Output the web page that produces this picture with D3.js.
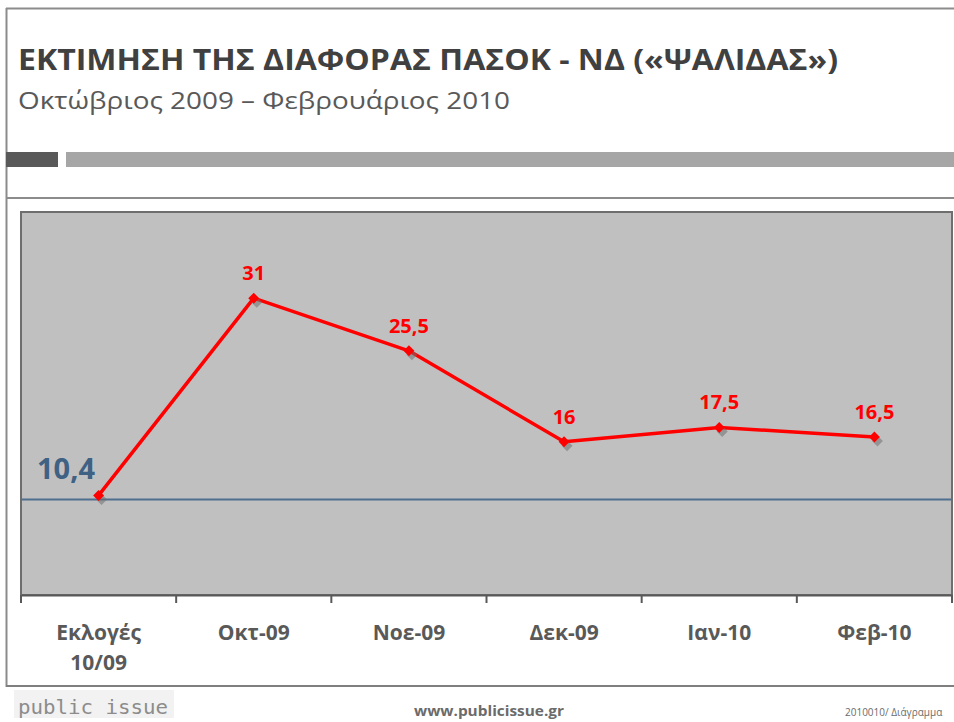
<!DOCTYPE html>
<html>
<head>
<meta charset="utf-8">
<script src="https://cdn.jsdelivr.net/npm/d3@7"></script>
<style>
  body { margin: 0; background: #fff; }
  svg { display: block; }
</style>
</head>
<body>
<div id="chart"></div>
<script>
// data
var categories = ["Εκλογές\n10/09", "Οκτ-09", "Νοε-09", "Δεκ-09", "Ιαν-10", "Φεβ-10"];
var gapValues = [10.4, 31, 25.5, 16, 17.5, 16.5];
var valueLabels = ["", "31", "25,5", "16", "17,5", "16,5"];
var baselineValue = 10.4;
var baselineLabel = "10,4";
var yDomain = [0, 40];

var W = 954, H = 722;
var svg = d3.select("#chart").append("svg").attr("width", W).attr("height", H);
var font = "'Open Sans', 'DejaVu Sans', sans-serif";

// frame
svg.append("line").attr("x1", 6).attr("x2", W).attr("y1", 8.5).attr("y2", 8.5).attr("stroke", "#8c8c8c").attr("stroke-width", 2);
svg.append("line").attr("x1", 6.5).attr("x2", 6.5).attr("y1", 8).attr("y2", 687).attr("stroke", "#8c8c8c").attr("stroke-width", 2);
svg.append("line").attr("x1", 6).attr("x2", W).attr("y1", 198).attr("y2", 198).attr("stroke", "#8c8c8c").attr("stroke-width", 2);
svg.append("line").attr("x1", 6).attr("x2", W).attr("y1", 686).attr("y2", 686).attr("stroke", "#7f7f7f").attr("stroke-width", 2);

// title
svg.append("text").attr("x", 18).attr("y", 70)
  .attr("font-family", font).attr("font-weight", "bold").attr("font-size", 29)
  .attr("fill", "#404040").attr("textLength", 820).attr("lengthAdjust", "spacingAndGlyphs")
  .text("ΕΚΤΙΜΗΣΗ ΤΗΣ ΔΙΑΦΟΡΑΣ ΠΑΣΟΚ - ΝΔ («ΨΑΛΙΔΑΣ»)");
svg.append("text").attr("x", 18).attr("y", 109)
  .attr("font-family", font).attr("font-size", 23)
  .attr("fill", "#595959").attr("textLength", 492).attr("lengthAdjust", "spacingAndGlyphs")
  .text("Οκτώβριος 2009 – Φεβρουάριος  2010");

// header bars
svg.append("rect").attr("x", 6).attr("y", 152).attr("width", 52).attr("height", 15).attr("fill", "#595959");
svg.append("rect").attr("x", 66).attr("y", 152).attr("width", W - 66).attr("height", 15).attr("fill", "#a6a6a6");

// plot
var margin = { left: 21, top: 212, right: 2, bottom: 127 };
var pw = W - margin.left - margin.right, ph = H - margin.top - margin.bottom;
var x = d3.scaleBand().domain(categories).range([0, pw]);
var y = d3.scaleLinear().domain(yDomain).range([ph, 0]);

var g = svg.append("g").attr("transform", "translate(" + margin.left + "," + margin.top + ")");

g.append("rect").attr("width", pw).attr("height", ph).attr("fill", "#c0c0c0")
  .attr("stroke", "#6e6e6e").attr("stroke-width", 2);

// x axis
var xAxis = g.append("g").attr("transform", "translate(0," + ph + ")")
  .call(d3.axisBottom(x).tickSize(0).tickFormat(""));
xAxis.select(".domain").attr("stroke", "#595959").attr("stroke-width", 2);
var bounds = [0].concat(categories.map(function (c) { return x(c) + x.bandwidth(); }));
g.selectAll(".tk").data(bounds).enter().append("line")
  .attr("x1", function (d) { return d; }).attr("x2", function (d) { return d; })
  .attr("y1", ph).attr("y2", ph + 8).attr("stroke", "#595959").attr("stroke-width", 2);

var labels = g.selectAll(".xl").data(categories).enter().append("text")
  .attr("x", function (d) { return x(d) + x.bandwidth() / 2; })
  .attr("y", ph + 45)
  .attr("text-anchor", "middle")
  .attr("font-family", font).attr("font-weight", "bold").attr("font-size", 21)
  .attr("fill", "#595959");
labels.each(function (d) {
  var parts = d.split("\n");
  var t = d3.select(this);
  parts.forEach(function (p, i) {
    t.append("tspan").attr("x", t.attr("x")).attr("dy", i === 0 ? 0 : 30).text(p);
  });
});

// baseline (drawn shape sits a little under the 10,4 point)
var by = y(baselineValue) + 4;
g.append("line").attr("x1", 0).attr("x2", pw)
  .attr("y1", by).attr("y2", by)
  .attr("stroke", "#4f6f8f").attr("stroke-width", 2);
g.append("text").attr("x", 16).attr("y", by - 20)
  .attr("font-family", font).attr("font-weight", "bold").attr("font-size", 28)
  .attr("fill", "#3f6183").attr("textLength", 58).attr("lengthAdjust", "spacingAndGlyphs")
  .text(baselineLabel);

// line
var pts = categories.map(function (c, i) { return [x(c) + x.bandwidth() / 2, y(gapValues[i])]; });
var line = d3.line();
g.append("path").attr("d", line(pts)).attr("fill", "none")
  .attr("stroke", "#ff0000").attr("stroke-width", 3.5).attr("stroke-linejoin", "round");

var sym = d3.symbol().type(d3.symbolSquare).size(60);
g.selectAll(".sh").data(pts).enter().append("path")
  .attr("d", sym).attr("transform", function (p) { return "translate(" + (p[0] + 3) + "," + (p[1] + 4) + ") rotate(45)"; })
  .attr("fill", "#6f6f6f").attr("opacity", 0.55);
g.selectAll(".mk").data(pts).enter().append("path")
  .attr("d", sym).attr("transform", function (p) { return "translate(" + p[0] + "," + p[1] + ") rotate(45)"; })
  .attr("fill", "#ff0000");

g.selectAll(".vl").data(categories).enter().append("text")
  .attr("x", function (d) { return x(d) + x.bandwidth() / 2; })
  .attr("y", function (d, i) { return y(gapValues[i]) - 18; })
  .attr("text-anchor", "middle")
  .attr("font-family", font).attr("font-weight", "bold").attr("font-size", 20)
  .attr("fill", "#ff0000")
  .text(function (d, i) { return valueLabels[i]; });

// footer
svg.append("rect").attr("x", 14).attr("y", 690).attr("width", 160).attr("height", 28).attr("fill", "#f2f2f2");
svg.append("text").attr("x", 18).attr("y", 714)
  .attr("font-family", "'DejaVu Sans Mono', monospace").attr("font-size", 20)
  .attr("fill", "#8c8c8c").attr("textLength", 150).attr("lengthAdjust", "spacingAndGlyphs")
  .text("public issue");
svg.append("text").attr("x", 489).attr("y", 716).attr("text-anchor", "middle")
  .attr("font-family", font).attr("font-weight", "bold").attr("font-size", 14)
  .attr("fill", "#6b6b6b").attr("textLength", 150).attr("lengthAdjust", "spacingAndGlyphs")
  .text("www.publicissue.gr");
svg.append("text").attr("x", 845).attr("y", 716)
  .attr("font-family", font).attr("font-size", 10)
  .attr("fill", "#6b6b6b").text("2010010/ Διάγραμμα");
</script>
</body>
</html>
